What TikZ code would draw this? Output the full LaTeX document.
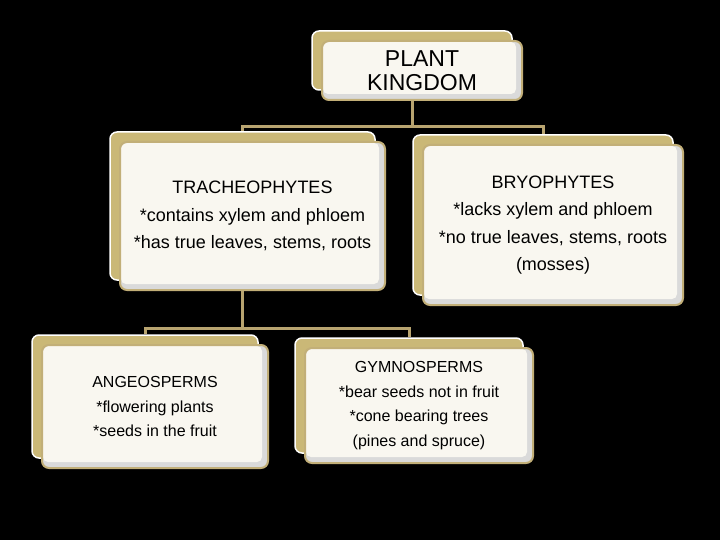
\documentclass[tikz,border=0pt]{standalone}
\usepackage{fontspec}
\setmainfont{Liberation Sans}
\usetikzlibrary{calc,positioning}

\begin{document}
\begin{tikzpicture}[x=1pt,y=-1pt,every node/.append style={align=center}]
    \definecolor{gold}{HTML}{CAB877}
    \definecolor{rim}{HTML}{C2AF78}
    \definecolor{cream}{HTML}{F9F7F0}
    \definecolor{shade}{HTML}{DADADA}
    \definecolor{wire}{HTML}{B8A470}
    \tikzstyle{back}=[rectangle, rounded corners=7pt, fill=gold, draw=white, line width=1.5pt]
    \tikzstyle{card}=[rectangle, rounded corners=7pt, fill=shade, draw=rim, line width=2pt, inner sep=0pt,
        path picture={\fill[cream, rounded corners=5pt] ($(path picture bounding box.north west)+(1pt,-1pt)$) rectangle ($(path picture bounding box.south east)+(-6pt,6pt)$);}]
    \tikzstyle{link}=[-, draw=wire, line width=3pt]
    \fill[black] (0,0) rectangle (720,540);
    % boxes: back plate first, then the card on top
    \foreach \n/\x/\y/\w/\h/\fs/\sk/\txt in {
        root/422/70.5/200/59/23/24/{PLANT\\KINGDOM},
        trach/252.5/216/265/148/18/27.5/{TRACHEOPHYTES\\*contains xylem and phloem\\*has true leaves, stems, roots},
        bryo/553/225/260/160/18/27.5/{BRYOPHYTES\\*lacks xylem and phloem\\*no true leaves, stems, roots\\(mosses)},
        angeo/155/406.5/226/123/16/24.5/{ANGEOSPERMS\\*flowering plants\\*seeds in the fruit},
        gymno/419/405.5/228/115/16/24.5/{GYMNOSPERMS\\*bear seeds not in fruit\\*cone bearing trees\\(pines and spruce)}} {
        \node[back, minimum width=\w pt, minimum height=\h pt] (b\n) at (\x-10,\y-10) {};
        \node[card, minimum width=\w pt, minimum height=\h pt, font=\fontsize{\fs}{\sk}\selectfont] (\n) at (\x,\y) {\txt};
    }
    % connectors
    \draw[link] (broot.south |- root.south) -- ++(0,26) -| (btrach.north);
    \draw[link] (broot.south |- root.south) -- ++(0,26) -| (bbryo.north);
    \draw[link] (btrach.south |- trach.south) -- ++(0,37) -| (bangeo.north);
    \draw[link] (btrach.south |- trach.south) -- ++(0,37) -| (bgymno.north);
\end{tikzpicture}
\end{document}
